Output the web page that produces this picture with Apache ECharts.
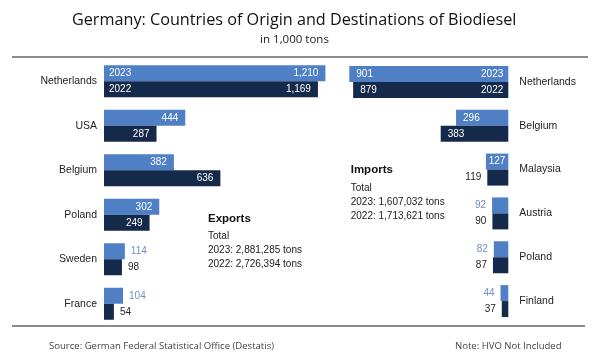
<!DOCTYPE html>
<html>
<head>
<meta charset="utf-8">
<script src="https://cdn.jsdelivr.net/npm/echarts@6/dist/echarts.min.js"></script>
<style>html,body{margin:0;padding:0;background:#fff}#c{width:600px;height:361px}</style>
</head>
<body>
<div id="c"></div>
<script>
const exportCountries = ['Netherlands', 'USA', 'Belgium', 'Poland', 'Sweden', 'France'];
const exports2023 = [1210, 444, 382, 302, 114, 104];
const exports2022 = [1169, 287, 636, 249, 98, 54];
const importCountries = ['Netherlands', 'Belgium', 'Malaysia', 'Austria', 'Poland', 'Finland'];
const imports2023 = [901, 296, 127, 92, 82, 44];
const imports2022 = [879, 383, 119, 90, 87, 37];
const years = ['2023', '2022'];
const exportTotals = ['2023: 2,881,285 tons', '2022: 2,726,394 tons'];
const importTotals = ['2023: 1,607,032 tons', '2022: 1,713,621 tons'];

const LIGHT = '#4f80c5', DARK = '#15294a';
const LIGHT_TXT = '#6f8fbf', DARK_TXT = '#222';
const SANS = '"Liberation Sans", Arial, sans-serif';
const OPEN = '"Open Sans", "Noto Sans", sans-serif';
const fmt = v => Number(v).toLocaleString('en-US');

function items(arr, isNew, side) {
  return arr.map(v => {
    const inside = v >= 125;
    let pos;
    if (inside) pos = v < 200 ? 'inside' : (side === 'left' ? 'insideRight' : 'insideLeft');
    else pos = side === 'left' ? 'right' : 'left';
    return {
      value: v,
      label: {
        position: pos,
        color: inside ? '#fff' : (isNew ? LIGHT_TXT : DARK_TXT),
        distance: inside ? 7 : 6
      }
    };
  });
}

const baseLabel = { show: true, fontSize: 10, fontFamily: SANS, formatter: p => fmt(p.value) };
function barSeries(name, xi, yi, data, color) {
  return {
    type: 'bar', name, xAxisIndex: xi, yAxisIndex: yi, data,
    barWidth: 16, barGap: '0%', itemStyle: { color },
    label: baseLabel, emphasis: { disabled: true }, silent: true
  };
}
function yearSeries(xi, yi, values, yearIdx, pos) {
  return {
    type: 'bar', xAxisIndex: xi, yAxisIndex: yi,
    data: values.map((v, i) => i === 0 ? v : '-'),
    barWidth: 16, barGap: '0%', itemStyle: { color: 'rgba(0,0,0,0)' },
    label: { show: true, position: pos, distance: 5, color: '#fff', fontSize: 10, fontFamily: SANS, formatter: () => years[yearIdx] },
    emphasis: { disabled: true }, silent: true
  };
}
const catAxisBase = {
  type: 'category', inverse: true,
  axisLine: { show: false }, axisTick: { show: false }, splitLine: { show: false }
};

const chart = echarts.init(document.getElementById('c'), null, { renderer: 'canvas' });
chart.setOption({
  animation: false,
  backgroundColor: '#fff',
  grid: [
    { left: 104, top: 59, width: 274.5, height: 267 },
    { right: 91.7, top: 60, width: 176.5, height: 263 }
  ],
  xAxis: [
    { type: 'value', gridIndex: 0, min: 0, max: 1500, show: false },
    { type: 'value', gridIndex: 1, min: 0, max: 1000, inverse: true, show: false }
  ],
  yAxis: [
    Object.assign({}, catAxisBase, { gridIndex: 0, data: exportCountries, position: 'left',
      axisLabel: { margin: 7, fontSize: 10.5, color: DARK_TXT, fontFamily: SANS } }),
    Object.assign({}, catAxisBase, { gridIndex: 1, data: importCountries, position: 'right',
      axisLabel: { margin: 11, fontSize: 10.5, color: DARK_TXT, fontFamily: SANS } }),
    Object.assign({}, catAxisBase, { gridIndex: 0, data: exportCountries, show: false }),
    Object.assign({}, catAxisBase, { gridIndex: 1, data: importCountries, show: false })
  ],
  series: [
    barSeries('Exports 2023', 0, 0, items(exports2023, true, 'left'), LIGHT),
    barSeries('Exports 2022', 0, 0, items(exports2022, false, 'left'), DARK),
    barSeries('Imports 2023', 1, 1, items(imports2023, true, 'right'), LIGHT),
    barSeries('Imports 2022', 1, 1, items(imports2022, false, 'right'), DARK),
    yearSeries(0, 2, exports2023, 0, 'insideLeft'),
    yearSeries(0, 2, exports2022, 1, 'insideLeft'),
    yearSeries(1, 3, imports2023, 0, 'insideRight'),
    yearSeries(1, 3, imports2022, 1, 'insideRight')
  ],
  graphic: [
    { type: 'text', x: 72, y: 20, style: { text: 'Germany: Countries of Origin and Destinations of Biodiesel', align: 'left', verticalAlign: 'middle', fill: '#111', fontSize: 16.2, fontWeight: 500, fontFamily: OPEN } },
    { type: 'text', x: 294.5, y: 40, style: { text: 'in 1,000 tons', align: 'center', verticalAlign: 'middle', fill: '#222', fontSize: 11.5, fontFamily: OPEN } },
    { type: 'line', shape: { x1: 12, y1: 57, x2: 588, y2: 57 }, style: { stroke: '#666', lineWidth: 1.5 } },
    { type: 'line', shape: { x1: 12, y1: 326, x2: 585, y2: 326 }, style: { stroke: '#666', lineWidth: 1.5 } },
    { type: 'text', x: 208, y: 218.5, style: { text: 'Exports', align: 'left', verticalAlign: 'middle', fill: '#111', fontSize: 11.5, fontWeight: 'bold', fontFamily: SANS } },
    { type: 'text', x: 208, y: 236.5, style: { text: 'Total', align: 'left', verticalAlign: 'middle', fill: '#222', fontSize: 10, fontFamily: SANS } },
    { type: 'text', x: 208, y: 250.5, style: { text: exportTotals[0], align: 'left', verticalAlign: 'middle', fill: '#222', fontSize: 10, fontFamily: SANS } },
    { type: 'text', x: 208, y: 264.5, style: { text: exportTotals[1], align: 'left', verticalAlign: 'middle', fill: '#222', fontSize: 10, fontFamily: SANS } },
    { type: 'text', x: 350.7, y: 170, style: { text: 'Imports', align: 'left', verticalAlign: 'middle', fill: '#111', fontSize: 11.5, fontWeight: 'bold', fontFamily: SANS } },
    { type: 'text', x: 350.7, y: 188, style: { text: 'Total', align: 'left', verticalAlign: 'middle', fill: '#222', fontSize: 10, fontFamily: SANS } },
    { type: 'text', x: 350.7, y: 202, style: { text: importTotals[0], align: 'left', verticalAlign: 'middle', fill: '#222', fontSize: 10, fontFamily: SANS } },
    { type: 'text', x: 350.7, y: 216, style: { text: importTotals[1], align: 'left', verticalAlign: 'middle', fill: '#222', fontSize: 10, fontFamily: SANS } },
    { type: 'text', x: 49, y: 346, style: { text: 'Source: German Federal Statistical Office (Destatis)', align: 'left', verticalAlign: 'middle', fill: '#444', fontSize: 9.55, fontFamily: OPEN } },
    { type: 'text', x: 455, y: 346, style: { text: 'Note: HVO Not Included', align: 'left', verticalAlign: 'middle', fill: '#444', fontSize: 9.55, fontFamily: OPEN } }
  ]
});
</script>
</body>
</html>
